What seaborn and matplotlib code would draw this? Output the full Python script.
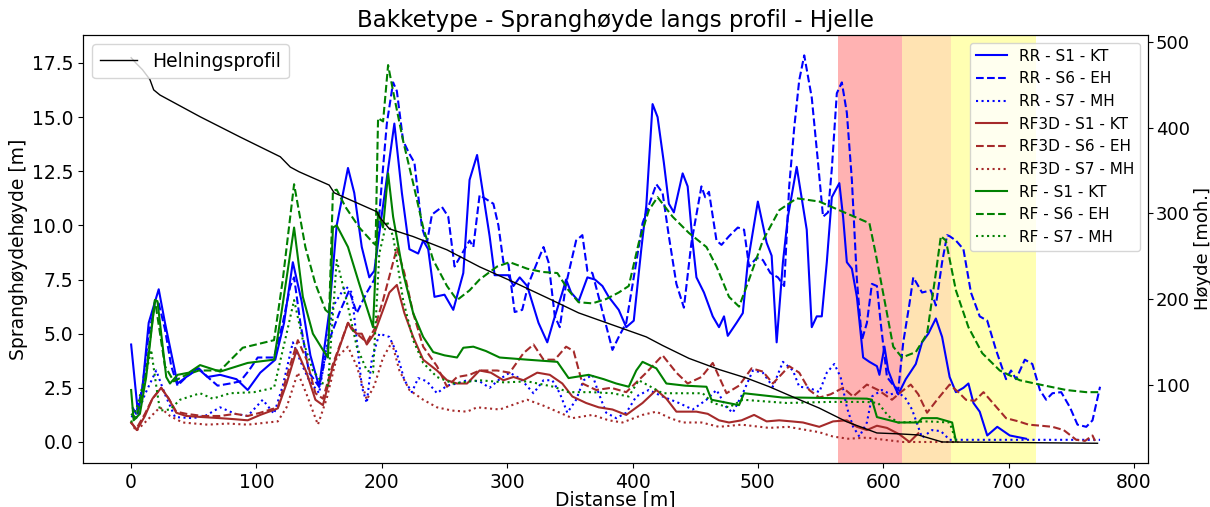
import numpy as np
import pandas as pd
import matplotlib
matplotlib.use("Agg")
import matplotlib.pyplot as plt
import seaborn as sns

# ---------------- data (distance [m], value) ----------------
rr_s1_d = [0, 5.5, 9, 14, 22, 27, 37, 44, 53, 61, 71, 84, 93, 103, 115, 122, 129, 136, 143, 150, 158, 164, 173, 178, 184, 190, 194, 200, 210, 216, 222, 229, 233, 237, 242, 250, 257, 265, 270, 276, 286, 290, 301, 305, 310, 316, 325, 332, 337, 344, 347, 351, 357, 364, 370, 376, 381, 389, 395, 401, 407, 411, 416, 420, 425, 429, 433, 440, 444, 448, 451, 457, 464, 469, 473, 476, 483, 488, 492, 500, 507, 511, 515, 520, 524, 531, 539, 543, 547, 551, 555, 559, 565, 568, 571, 575, 579, 581, 584, 589, 595, 597, 601, 604, 608, 612, 618, 626, 631, 636, 642, 647, 653, 658, 664, 668, 672, 677, 683, 691, 701, 714]
rr_s1_v = [4.5, 1.3, 2.5, 5.5, 7.05, 5.5, 2.7, 3.0, 3.4, 3.0, 3.1, 2.9, 2.4, 3.2, 3.8, 5.5, 8.3, 6.5, 4.0, 2.55, 6.0, 10.0, 12.65, 11.5, 9.0, 7.6, 7.9, 10.5, 14.7, 11.5, 8.9, 8.7, 9.3, 8.9, 6.7, 6.8, 6.1, 7.8, 12.1, 13.25, 9.5, 7.7, 7.7, 7.2, 7.6, 7.2, 5.5, 4.6, 5.6, 6.9, 7.5, 6.9, 6.5, 7.6, 7.5, 7.2, 6.7, 6.1, 5.3, 5.6, 8.9, 10.9, 15.6, 15.0, 12.9, 11.0, 10.6, 12.4, 11.8, 9.2, 7.6, 6.9, 5.8, 5.3, 5.8, 4.9, 5.5, 5.95, 8.3, 11.1, 9.2, 8.6, 4.6, 8.3, 10.4, 12.7, 9.8, 5.3, 5.8, 5.8, 8.3, 11.3, 11.95, 10.4, 8.3, 8.0, 6.7, 5.6, 3.9, 3.7, 3.5, 3.1, 4.4, 3.3, 2.7, 2.2, 2.9, 3.6, 4.6, 5.0, 5.7, 4.85, 3.0, 2.3, 2.5, 2.7, 1.8, 1.4, 0.3, 0.7, 0.3, 0.15]

rr_s6_d = [1, 4, 9, 14, 19, 22, 27, 32, 37, 44, 54, 61, 69, 79, 87, 94, 101, 114, 121, 127, 130, 135, 142, 150, 158, 166, 174, 180, 188, 194, 200, 204, 209, 212, 217, 222, 226, 232, 236, 240, 248, 253, 258, 264, 270, 273, 278, 289, 293, 297, 301, 306, 312, 317, 324, 329, 333, 338, 342, 347, 355, 360, 364, 368, 373, 384, 389, 395, 403, 408, 419, 424, 429, 435, 441, 447, 455, 458, 461, 467, 471, 477, 484, 489, 493, 499, 504, 510, 516, 521, 525, 529, 533, 537, 543, 548, 552, 556, 559, 563, 567, 571, 575, 579, 583, 587, 591, 595, 598, 603, 607, 612, 616, 621, 624, 631, 638, 642, 647, 651, 653, 658, 664, 670, 677, 683, 690, 698, 702, 706, 713, 719, 725, 730, 735, 742, 749, 755, 762, 767, 773]
rr_s6_v = [1.6, 1.3, 2.5, 5.0, 6.3, 6.4, 5.2, 3.5, 2.6, 3.0, 3.4, 3.0, 2.6, 2.7, 2.8, 3.3, 3.9, 3.9, 5.5, 7.2, 7.6, 5.5, 3.2, 2.55, 4.7, 5.95, 7.0, 5.95, 6.9, 7.5, 12.0, 14.7, 16.6, 16.2, 13.9, 13.3, 12.9, 9.9, 9.2, 10.5, 10.85, 10.4, 8.1, 8.7, 9.3, 9.0, 11.4, 11.0, 10.0, 8.3, 8.2, 6.0, 6.1, 7.3, 8.3, 9.0, 8.3, 5.8, 5.3, 7.3, 9.3, 9.55, 7.9, 7.8, 6.7, 4.25, 4.85, 5.5, 8.3, 10.1, 11.9, 11.5, 9.5, 7.3, 6.2, 9.2, 11.8, 11.3, 11.55, 9.3, 9.1, 9.5, 9.9, 9.8, 8.1, 8.5, 8.4, 7.8, 7.6, 7.2, 11.8, 14.5, 16.7, 17.85, 15.9, 12.9, 10.4, 10.6, 12.6, 16.1, 16.6, 15.2, 12.1, 7.5, 4.7, 5.5, 7.3, 7.2, 5.5, 3.0, 2.7, 2.4, 4.6, 6.4, 7.6, 6.9, 7.0, 6.3, 8.3, 9.55, 9.5, 9.3, 8.9, 6.9, 5.8, 5.6, 4.25, 2.9, 3.3, 2.9, 3.8, 3.6, 2.4, 1.95, 2.25, 2.3, 1.6, 0.8, 0.7, 1.0, 2.55]

rr_s7_d = [0, 4, 11, 20, 27, 35, 49, 59, 71, 83, 93, 105, 114, 121, 129, 136, 142, 150, 161, 171, 176, 180, 184, 188, 192, 198, 206, 212, 218, 224, 229, 236, 244, 252, 260, 268, 278, 286, 294, 302, 311, 321, 329, 336, 342, 348, 355, 361, 368, 373, 379, 387, 395, 403, 413, 424, 437, 448, 459, 467, 475, 480, 488, 496, 504, 512, 520, 528, 533, 541, 549, 555, 561, 566, 571, 576, 581, 587, 591, 599, 606, 612, 618, 623, 631, 639, 646, 653, 700, 773]
rr_s7_v = [1.2, 1.1, 2.2, 3.3, 2.2, 1.15, 1.1, 1.2, 1.6, 1.3, 1.2, 1.95, 1.3, 2.6, 4.6, 3.6, 2.85, 2.25, 6.25, 7.2, 6.9, 4.7, 2.55, 1.8, 3.8, 5.0, 4.85, 4.1, 2.85, 2.3, 2.95, 2.8, 2.25, 2.6, 2.7, 2.85, 2.8, 2.5, 2.9, 3.2, 2.9, 2.25, 2.85, 2.85, 2.25, 1.35, 1.95, 2.85, 3.1, 2.25, 1.35, 1.1, 1.35, 2.1, 2.4, 2.1, 1.8, 1.5, 1.95, 2.4, 1.6, 1.35, 2.25, 3.3, 3.2, 2.55, 3.7, 3.3, 2.55, 2.5, 2.3, 3.2, 3.6, 3.0, 1.6, 0.7, 0.25, 0.9, 2.1, 2.4, 2.2, 2.3, 2.0, 1.5, 0.2, 0.55, 0.5, 0.1, 0.1, 0.1]

rf3d_s1_d = [0, 4.5, 11, 17, 24, 30, 36, 44, 57, 71, 83, 93, 103, 117, 124, 132, 140, 147, 153, 161, 173, 176, 180, 184, 188, 194, 201, 206, 212, 218, 225, 233, 244, 252, 260, 268, 278, 287, 297, 305, 313, 324, 334, 344, 352, 363, 373, 384, 395, 408, 419, 427, 435, 451, 460, 469, 477, 487, 497, 507, 517, 527, 536, 549, 560, 571, 579, 587, 595, 603, 613, 621, 628]
rf3d_s1_v = [0.9, 0.55, 1.2, 2.0, 2.5, 2.0, 1.35, 1.2, 1.15, 1.1, 1.05, 1.0, 1.25, 1.55, 2.7, 4.25, 3.2, 1.95, 1.7, 3.5, 5.5, 5.2, 5.0, 5.0, 4.5, 5.0, 6.1, 6.9, 7.25, 5.95, 4.85, 3.8, 3.3, 2.85, 2.7, 2.7, 3.3, 3.2, 2.85, 3.0, 2.85, 3.2, 3.1, 2.7, 2.1, 1.8, 1.6, 1.5, 1.25, 1.8, 2.4, 2.0, 1.4, 1.4, 1.3, 1.0, 0.9, 1.0, 1.25, 0.95, 1.0, 0.95, 0.9, 0.7, 0.95, 1.0, 0.7, 0.55, 0.75, 0.65, 0.35, 0.0, 0.4]

rf3d_s6_d = [0, 4, 11, 17, 24, 30, 36, 44, 57, 71, 83, 93, 103, 117, 124, 133, 140, 147, 153, 161, 173, 180, 188, 194, 201, 212, 218, 225, 233, 244, 252, 260, 270, 278, 292, 302, 313, 321, 329, 338, 347, 353, 360, 371, 383, 395, 411, 424, 435, 444, 455, 464, 475, 485, 495, 504, 512, 525, 533, 541, 549, 558, 568, 576, 587, 596, 607, 614, 622, 628, 635, 643, 653, 660, 666, 673, 680, 689, 698, 708, 716, 726, 735, 744, 754, 761, 767, 769]
rf3d_s6_v = [0.9, 0.6, 1.3, 2.0, 2.5, 2.0, 1.4, 1.3, 1.2, 1.2, 1.3, 1.2, 1.35, 1.6, 3.0, 4.7, 3.8, 2.25, 2.0, 3.6, 5.5, 5.0, 4.6, 5.2, 6.55, 8.95, 7.8, 5.95, 4.4, 3.5, 2.55, 3.0, 3.1, 3.3, 3.3, 3.2, 4.1, 4.5, 3.8, 3.8, 4.4, 4.2, 2.7, 2.4, 2.5, 2.3, 3.2, 4.0, 3.2, 2.7, 3.0, 3.65, 2.25, 2.6, 3.4, 3.25, 2.7, 3.5, 3.2, 2.4, 2.05, 2.2, 2.5, 2.1, 2.65, 2.4, 1.95, 2.3, 2.65, 2.2, 1.35, 1.95, 2.65, 2.3, 1.95, 1.9, 2.3, 1.7, 1.1, 0.95, 0.8, 0.75, 0.7, 0.55, 0.1, 0.05, 0.3, 0.05]

rf3d_s7_d = [0, 4, 11, 23, 31, 41, 61, 77, 93, 117, 124, 133, 140, 149, 156, 164, 173, 180, 188, 194, 201, 208, 214, 222, 233, 244, 256, 268, 276, 294, 316, 328, 342, 352, 368, 381, 392, 408, 419, 430, 440, 455, 469, 487, 509, 524, 539, 549, 560, 572, 587, 601, 616, 660]
rf3d_s7_v = [0.9, 0.5, 0.9, 1.6, 1.2, 0.9, 0.8, 0.85, 0.8, 0.95, 1.6, 3.2, 2.2, 0.8, 2.0, 3.9, 4.4, 3.5, 1.95, 2.6, 3.9, 4.6, 3.3, 2.4, 1.95, 1.6, 1.45, 1.4, 1.6, 1.5, 1.95, 1.7, 1.35, 1.1, 1.25, 1.0, 0.9, 1.25, 1.4, 1.1, 0.9, 0.9, 0.7, 0.8, 0.65, 0.7, 0.55, 0.45, 0.25, 0.15, 0.2, 0.1, 0.0, 0.0]

rf_s1_d = [0, 2, 7, 12, 19, 21, 28, 31, 37, 46, 55, 71, 93, 114, 120, 130, 137, 145, 153, 157, 161, 164, 173, 182, 193, 197, 201, 205, 209, 217, 225, 233, 241, 250, 260, 265, 273, 283, 294, 316, 340, 349, 365, 377, 387, 397, 403, 408, 419, 427, 442, 459, 463, 485, 489, 520, 533, 587, 591, 595, 612, 628, 631, 643, 655, 658]
rf_s1_v = [2.4, 1.0, 1.3, 3.0, 6.55, 6.5, 3.0, 2.7, 3.1, 3.2, 3.55, 3.25, 3.65, 3.8, 6.0, 9.9, 6.7, 5.0, 4.25, 3.9, 9.9, 10.0, 9.0, 7.3, 5.3, 10.6, 9.9, 12.4, 10.4, 7.8, 5.95, 4.85, 4.15, 4.0, 3.9, 4.35, 4.4, 4.2, 3.9, 3.8, 3.7, 2.95, 3.1, 2.9, 2.7, 2.55, 3.3, 3.7, 3.4, 2.7, 2.6, 2.55, 1.95, 1.7, 2.25, 2.05, 2.05, 2.0, 1.95, 1.15, 0.9, 0.9, 1.1, 1.1, 0.9, 0.05]

rf_s6_d = [0, 4, 11, 19, 27, 34, 44, 54, 71, 89, 114, 121, 130, 139, 147, 155, 158, 161, 164, 171, 182, 193, 195, 197, 201, 205, 210, 217, 225, 233, 241, 252, 260, 270, 278, 292, 302, 316, 328, 340, 349, 357, 368, 379, 389, 397, 405, 413, 420, 432, 445, 459, 467, 477, 485, 493, 504, 517, 531, 549, 565, 589, 594, 602, 608, 615, 626, 635, 642, 646, 650, 658, 668, 679, 693, 709, 725, 746, 762, 773]
rf_s6_v = [1.3, 1.1, 2.8, 6.55, 3.5, 2.8, 3.1, 3.3, 3.3, 4.35, 4.7, 7.5, 11.9, 9.0, 7.3, 6.1, 5.95, 11.6, 11.65, 10.85, 9.9, 9.2, 9.1, 14.95, 14.8, 17.4, 15.9, 13.9, 11.95, 9.9, 8.4, 7.2, 6.55, 7.0, 7.5, 8.1, 8.3, 8.0, 7.85, 7.8, 7.0, 6.45, 6.4, 6.6, 6.9, 7.2, 9.2, 10.7, 11.3, 10.4, 9.65, 9.0, 8.1, 6.7, 6.25, 7.5, 9.3, 10.7, 11.25, 11.1, 10.7, 10.1, 8.7, 6.25, 4.4, 3.9, 4.15, 5.0, 7.8, 9.5, 9.3, 7.0, 5.3, 4.1, 3.3, 2.85, 2.65, 2.4, 2.3, 2.3]

rf_s7_d = [0, 4, 12, 16, 20, 23, 31, 39, 55, 65, 79, 98, 114, 124, 130, 137, 145, 153, 157, 164, 173, 180, 188, 193, 198, 204, 209, 217, 225, 233, 244, 257, 278, 298, 316, 337, 349, 367, 384, 397, 405, 424, 456, 464, 477, 488, 523, 557, 587, 596, 604, 612, 636, 653, 658]
rf_s7_v = [0.9, 1.5, 3.2, 4.25, 2.6, 1.45, 1.5, 1.95, 2.25, 2.0, 2.25, 2.3, 2.5, 5.0, 6.55, 4.7, 3.3, 2.7, 2.6, 8.4, 6.25, 4.4, 3.3, 3.2, 8.7, 10.2, 9.5, 6.55, 4.7, 3.65, 3.0, 2.7, 2.85, 2.75, 2.8, 2.55, 2.3, 2.3, 2.25, 2.1, 2.85, 2.25, 2.25, 1.8, 1.6, 1.95, 1.8, 1.85, 1.85, 1.8, 1.2, 0.9, 0.95, 0.9, 0.05]

profil_d = [0, 4, 9, 15, 18, 23, 55, 87, 119, 127, 134, 158, 162, 196, 198, 206, 225, 252, 278, 305, 332, 357, 384, 411, 424, 445, 469, 491, 509, 528, 549, 571, 584, 595, 612, 628, 647, 696, 771]
profil_h = [481.5, 475, 467.6, 456, 444, 438, 412.7, 389, 366, 354, 348.5, 333, 324, 302, 296, 282, 273, 257.5, 237.7, 220, 201.5, 184, 170, 156, 146, 131, 118, 108, 98, 86, 73, 57, 50, 44, 43, 41.7, 33.5, 33, 32]

zones = [(564, 615, "red"), (615, 654, "orange"), (654, 722, "yellow")]

series = [
    ("RR - S1 - KT", rr_s1_d, rr_s1_v, "blue", "-"),
    ("RR - S6 - EH", rr_s6_d, rr_s6_v, "blue", "--"),
    ("RR - S7 - MH", rr_s7_d, rr_s7_v, "blue", ":"),
    ("RF3D - S1 - KT", rf3d_s1_d, rf3d_s1_v, "brown", "-"),
    ("RF3D - S6 - EH", rf3d_s6_d, rf3d_s6_v, "brown", "--"),
    ("RF3D - S7 - MH", rf3d_s7_d, rf3d_s7_v, "brown", ":"),
    ("RF - S1 - KT", rf_s1_d, rf_s1_v, "green", "-"),
    ("RF - S6 - EH", rf_s6_d, rf_s6_v, "green", "--"),
    ("RF - S7 - MH", rf_s7_d, rf_s7_v, "green", ":"),
]

# ---------------- figure ----------------
fig = plt.figure(figsize=(12.1, 5.07), dpi=100)
ax = fig.add_axes([0.0686, 0.0868, 0.8802, 0.8442])

for lo, hi, c in zones:
    ax.axvspan(lo, hi, color=c, alpha=0.3, lw=0, zorder=0)

for label, d, v, c, ls in series:
    df = pd.DataFrame({"d": d, "v": v})
    sns.lineplot(data=df, x="d", y="v", ax=ax, color=c, linestyle=ls,
                 linewidth=1.5, label=label, estimator=None, sort=False)

ax.set_xlim(-38.4, 811.3)
ax.set_ylim(-0.97, 18.79)
ax.set_yticks([0, 2.5, 5, 7.5, 10, 12.5, 15, 17.5])
ax.tick_params(labelsize=13.5)
ax.set_xlabel("Distanse [m]", fontsize=13.5, labelpad=-1)
ax.set_ylabel("Spranghøydehøyde [m]", fontsize=13.5, labelpad=3)
ax.set_title("Bakketype - Spranghøyde langs profil - Hjelle", fontsize=16.5)
ax.legend(loc="upper right", fontsize=11)

ax2 = ax.twinx()
pdf = pd.DataFrame({"d": profil_d, "h": profil_h})
sns.lineplot(data=pdf, x="d", y="h", ax=ax2, color="black", linewidth=1,
             label="Helningsprofil", estimator=None, sort=False)
ax2.set_ylim(9, 508)
ax2.set_yticks([100, 200, 300, 400, 500])
ax2.tick_params(labelsize=13, pad=2)
ax2.set_ylabel("Høyde [moh.]", fontsize=13)
ax2.yaxis.set_label_coords(1.043, 0.5)
ax2.legend(loc="upper left", fontsize=13.5)

fig.savefig("out.png", dpi=100)
